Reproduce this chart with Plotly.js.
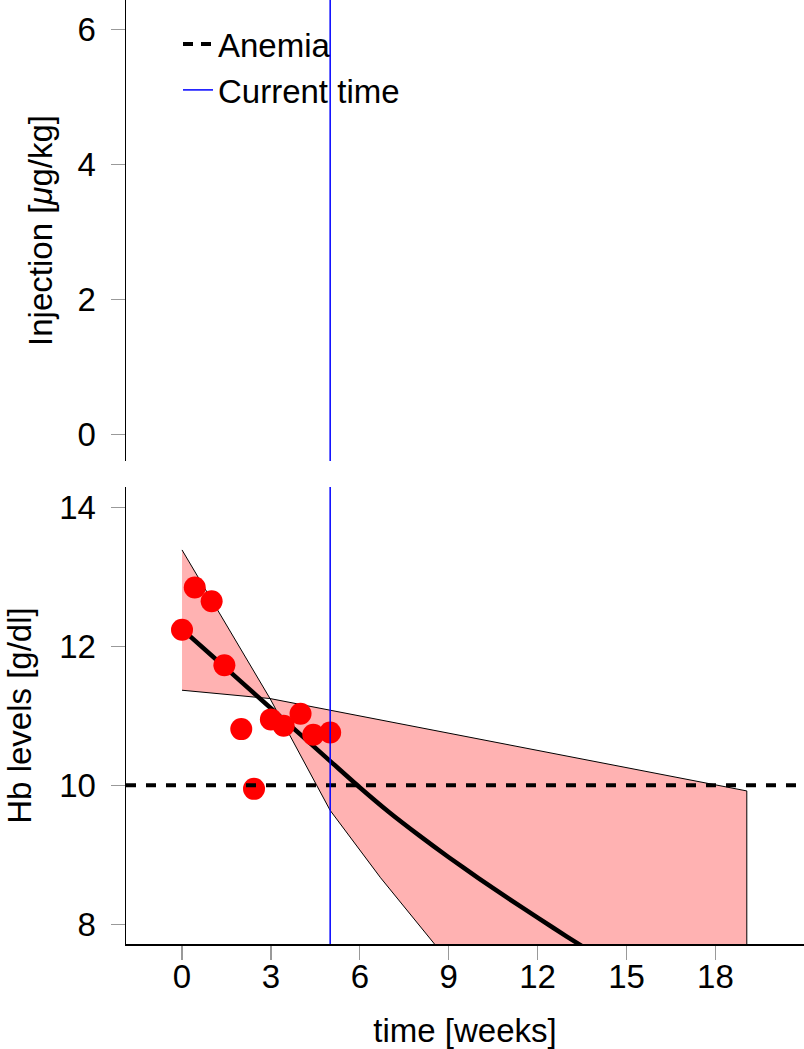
<!DOCTYPE html>
<html>
<head>
<meta charset="utf-8">
<script src="https://cdn.plot.ly/plotly-3.0.1.min.js"></script>
<style>html,body{margin:0;padding:0;background:#fff;}#chart{width:804px;height:1049px;}</style>
</head>
<body>
<div id="chart"></div>
<script>
// Observed Hb measurements
const obsWeeks = [0, 0.43, 1.0, 1.43, 2.0, 2.43, 3.0, 3.43, 4.0, 4.43, 5.0];
const obsHb = [12.24, 12.85, 12.65, 11.73, 10.81, 9.95, 10.95, 10.86, 11.03, 10.73, 10.76];

// Predicted mean Hb curve
const fitWeeks = [0, 1, 2, 3, 4, 5, 6, 7, 8, 9, 10, 11, 12, 13, 14];
const fitHb = [12.25, 11.87, 11.49, 11.11, 10.73, 10.35, 9.97, 9.61, 9.28, 8.965, 8.665, 8.375, 8.095, 7.82, 7.55];

// Prediction band
const bandUpperWeeks = [0, 2.97, 19.06];
const bandUpperHb = [13.39, 11.25, 9.92];
const bandLowerWeeks = [0, 2.97, 5.0, 6.7, 8.57, 19.06];
const bandLowerHb = [11.37, 11.25, 9.64, 8.67, 7.69, 3.0];

// Reference values
const anemiaLevel = 10;
const currentTime = 5;

// Axis ticks
const timeTicks = [0, 3, 6, 9, 12, 15, 18];
const hbTicks = [8, 10, 12, 14];
const injTicks = [0, 2, 4, 6];

const FONT = 'Liberation Sans, Arial, Helvetica, sans-serif';
const FS = 33;

const bandX = bandUpperWeeks.concat(bandLowerWeeks.slice().reverse());
const bandY = bandUpperHb.concat(bandLowerHb.slice().reverse());

const traces = [
  {x: bandX, y: bandY, type: 'scatter', mode: 'lines', fill: 'toself',
   fillcolor: 'rgba(255,0,0,0.3)', line: {color: '#000', width: 1}, showlegend: false, hoverinfo: 'skip',
   xaxis: 'x', yaxis: 'y'},
  {x: fitWeeks, y: fitHb, type: 'scatter', mode: 'lines', line: {color: '#000', width: 4.5, shape: 'spline', smoothing: 0.6},
   showlegend: false, xaxis: 'x', yaxis: 'y'},
  {x: obsWeeks, y: obsHb, type: 'scatter', mode: 'markers', marker: {color: '#ff0000', size: 22},
   showlegend: false, xaxis: 'x', yaxis: 'y'},
  {x: [null], y: [null], type: 'scatter', mode: 'lines', name: 'Anemia',
   line: {color: '#000', width: 4, dash: '10px,8px'}, xaxis: 'x', yaxis: 'y2'},
  {x: [null], y: [null], type: 'scatter', mode: 'lines', name: 'Current time',
   line: {color: '#0000ff', width: 1.5}, xaxis: 'x', yaxis: 'y2'}
];

const axisCommon = {
  showline: true, linecolor: '#000', linewidth: 1.5, mirror: false,
  ticks: 'outside', ticklen: 14, tickwidth: 1.3, tickcolor: '#999',
  showgrid: false, zeroline: false,
  tickfont: {family: FONT, size: FS, color: '#000'}
};

const layout = {
  width: 804, height: 1049,
  margin: {l: 126, r: 0, t: 0, b: 105},
  paper_bgcolor: '#fff', plot_bgcolor: '#fff',
  font: {family: FONT, size: FS, color: '#000'},
  showlegend: true,
  legend: {x: 0.0767, y: 0.983, xanchor: 'left', yanchor: 'top', bgcolor: 'rgba(0,0,0,0)',
           font: {family: FONT, size: FS, color: '#000'}, tracegroupgap: 0},
  xaxis: Object.assign({}, axisCommon, {
    range: [-1.89, 20.99], tickvals: timeTicks, anchor: 'y', ticklabelstandoff: -11,
    title: {text: 'time [weeks]', font: {family: FONT, size: FS, color: '#000'}, standoff: 29}
  }),
  yaxis: Object.assign({}, axisCommon, {
    domain: [0, 0.4841], range: [7.716, 14.296], tickvals: hbTicks, anchor: 'x', ticklabelstandoff: 8,
    title: {text: 'Hb levels [g/dl]', font: {family: FONT, size: FS, color: '#000'}, standoff: 17}
  }),
  yaxis2: Object.assign({}, axisCommon, {
    domain: [0.5117, 1], range: [-0.396, 6.434], tickvals: injTicks, anchor: 'x', ticklabelstandoff: 8,
    title: {text: 'Injection [<i>μ</i>g/kg]', font: {family: FONT, size: FS, color: '#000'}, standoff: 15}
  }),
  shapes: [
    {type: 'line', xref: 'x domain', yref: 'y', x0: 0, x1: 1, y0: anemiaLevel, y1: anemiaLevel,
     line: {color: '#000', width: 4, dash: '10px,10px'}, layer: 'above'},
    {type: 'line', xref: 'x', yref: 'y domain', x0: currentTime, x1: currentTime, y0: 0, y1: 1,
     line: {color: '#0000ff', width: 1.5}, layer: 'above'},
    {type: 'line', xref: 'x', yref: 'y2 domain', x0: currentTime, x1: currentTime, y0: 0, y1: 1,
     line: {color: '#0000ff', width: 1.5}, layer: 'above'}
  ]
};

Plotly.newPlot('chart', traces, layout, {staticPlot: true, displayModeBar: false});
</script>
</body>
</html>
